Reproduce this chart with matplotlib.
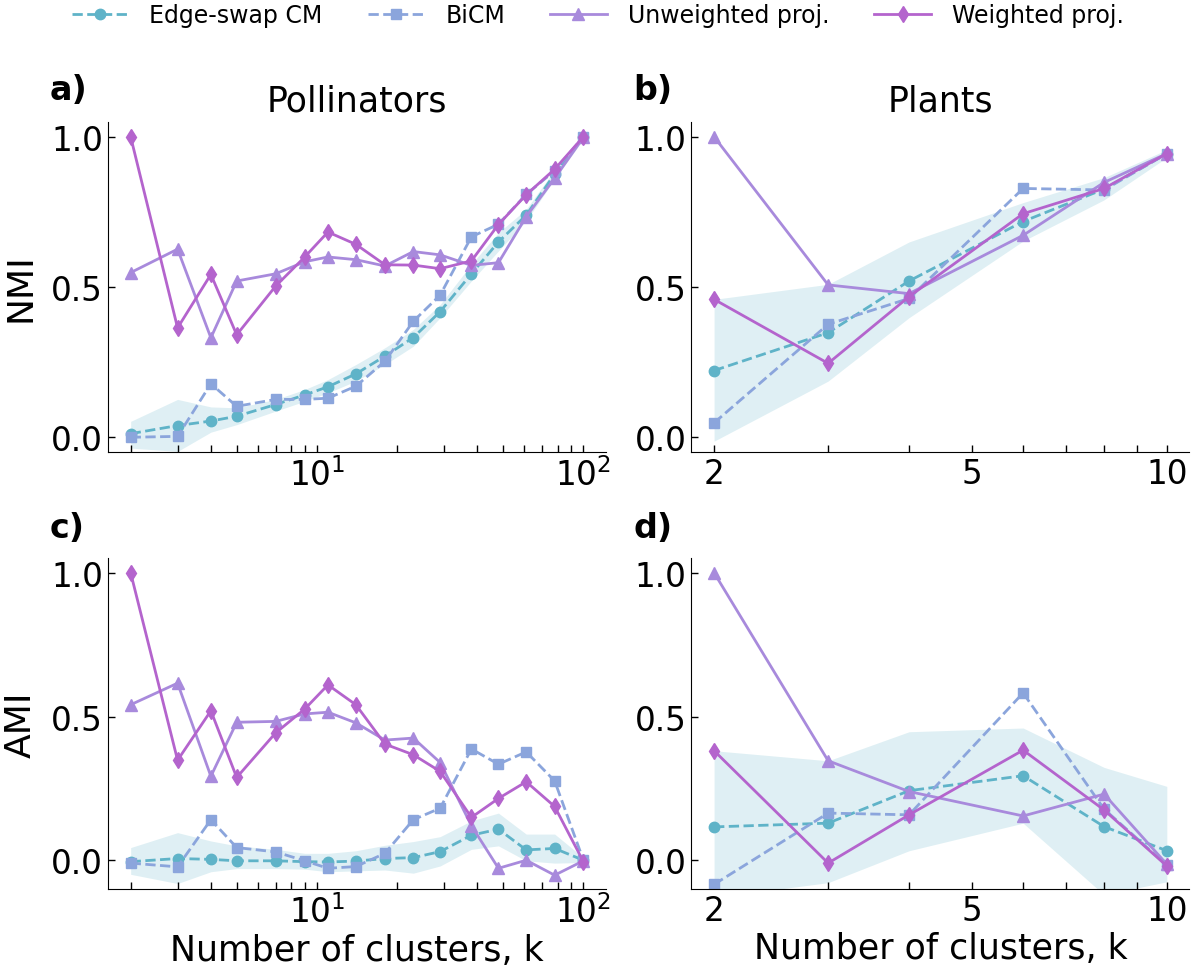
import numpy as np
import matplotlib
matplotlib.use("Agg")
import matplotlib.pyplot as plt
from matplotlib.ticker import NullFormatter, FixedLocator

# number of clusters
k_poll = [2, 3, 4, 5, 7, 9, 11, 14, 18, 23, 29, 38, 48, 61, 78, 100]
k_plant = [2, 3, 4, 6, 8, 10]

# NMI, pollinators
nmi_poll_cm = [0.012, 0.039, 0.054, 0.07, 0.109, 0.141, 0.168, 0.211, 0.27, 0.332, 0.418, 0.544, 0.65, 0.739, 0.876, 1.0]
nmi_poll_cm_lo = [-0.036, -0.047, 0.017, 0.042, 0.087, 0.12, 0.148, 0.187, 0.242, 0.303, 0.398, 0.52, 0.62, 0.72, 0.859, 0.992]
nmi_poll_cm_hi = [0.053, 0.126, 0.101, 0.098, 0.126, 0.159, 0.192, 0.242, 0.298, 0.359, 0.442, 0.576, 0.681, 0.759, 0.89, 1.0]
nmi_poll_bicm = [0.0, 0.003, 0.178, 0.103, 0.126, 0.126, 0.13, 0.17, 0.253, 0.386, 0.473, 0.667, 0.709, 0.808, 0.887, 1.0]
nmi_poll_unw = [0.548, 0.626, 0.331, 0.52, 0.544, 0.584, 0.6, 0.591, 0.57, 0.618, 0.607, 0.572, 0.581, 0.734, 0.862, 0.998]
nmi_poll_w = [1.0, 0.364, 0.542, 0.341, 0.503, 0.6, 0.683, 0.642, 0.574, 0.573, 0.561, 0.587, 0.708, 0.807, 0.892, 1.0]

# NMI, plants
nmi_plant_cm = [0.222, 0.348, 0.52, 0.718, 0.826, 0.944]
nmi_plant_cm_lo = [-0.013, 0.187, 0.398, 0.653, 0.79, 0.931]
nmi_plant_cm_hi = [0.459, 0.509, 0.65, 0.781, 0.864, 0.957]
nmi_plant_bicm = [0.048, 0.376, 0.462, 0.828, 0.823, 0.944]
nmi_plant_unw = [1.0, 0.507, 0.478, 0.672, 0.848, 0.944]
nmi_plant_w = [0.459, 0.246, 0.468, 0.744, 0.828, 0.944]

# AMI, pollinators
ami_poll_cm = [-0.005, 0.006, 0.003, -0.002, -0.002, -0.005, -0.006, -0.003, 0.006, 0.009, 0.03, 0.087, 0.108, 0.036, 0.041, 0.0]
ami_poll_cm_lo = [-0.049, -0.081, -0.04, -0.029, -0.029, -0.031, -0.04, -0.037, -0.034, -0.045, -0.02, 0.038, 0.05, -0.002, -0.01, -0.008]
ami_poll_cm_hi = [0.044, 0.096, 0.067, 0.05, 0.038, 0.024, 0.024, 0.033, 0.052, 0.065, 0.082, 0.137, 0.164, 0.091, 0.091, 0.009]
ami_poll_bicm = [-0.01, -0.023, 0.141, 0.044, 0.029, -0.002, -0.028, -0.022, 0.024, 0.141, 0.181, 0.387, 0.334, 0.377, 0.276, 0.0]
ami_poll_unw = [0.541, 0.616, 0.292, 0.48, 0.483, 0.509, 0.515, 0.478, 0.418, 0.425, 0.34, 0.12, -0.028, 0.0, -0.052, -0.002]
ami_poll_w = [1.0, 0.348, 0.52, 0.288, 0.443, 0.526, 0.61, 0.541, 0.404, 0.367, 0.309, 0.149, 0.215, 0.273, 0.187, -0.005]

# AMI, plants
ami_plant_cm = [0.116, 0.129, 0.242, 0.294, 0.117, 0.033]
ami_plant_cm_lo = [-0.13, -0.078, 0.033, 0.129, -0.12, -0.075]
ami_plant_cm_hi = [0.381, 0.346, 0.447, 0.46, 0.323, 0.257]
ami_plant_bicm = [-0.084, 0.164, 0.158, 0.582, 0.178, -0.017]
ami_plant_unw = [1.0, 0.346, 0.239, 0.154, 0.23, -0.014]
ami_plant_w = [0.381, -0.01, 0.158, 0.383, 0.175, -0.02]

c_cm = "#5fb3c8"
c_bicm = "#8ba5dc"
c_unw = "#a88adc"
c_w = "#b464cd"

fig, axes = plt.subplots(2, 2, figsize=(11.91, 9.78), dpi=100)
plt.subplots_adjust(left=0.0907, right=0.9987, bottom=0.09, top=0.8745, wspace=0.1715, hspace=0.321)

panels = [
    (axes[0, 0], k_poll, nmi_poll_cm, nmi_poll_cm_lo, nmi_poll_cm_hi, nmi_poll_bicm, nmi_poll_unw, nmi_poll_w),
    (axes[0, 1], k_plant, nmi_plant_cm, nmi_plant_cm_lo, nmi_plant_cm_hi, nmi_plant_bicm, nmi_plant_unw, nmi_plant_w),
    (axes[1, 0], k_poll, ami_poll_cm, ami_poll_cm_lo, ami_poll_cm_hi, ami_poll_bicm, ami_poll_unw, ami_poll_w),
    (axes[1, 1], k_plant, ami_plant_cm, ami_plant_cm_lo, ami_plant_cm_hi, ami_plant_bicm, ami_plant_unw, ami_plant_w),
]

for ax, k, cm, lo, hi, bicm, unw, w in panels:
    ax.fill_between(k, lo, hi, color=c_cm, alpha=0.2, linewidth=0)
    ax.plot(k, cm, "--o", color=c_cm, lw=2, ms=7.5, label="Edge-swap CM")
    ax.plot(k, bicm, "--s", color=c_bicm, lw=2, ms=7.5, label="BiCM")
    ax.plot(k, unw, "-^", color=c_unw, lw=2, ms=8, label="Unweighted proj.")
    ax.plot(k, w, "-d", color=c_w, lw=2, ms=8, label="Weighted proj.")
    ax.set_xscale("log")
    ax.spines["top"].set_visible(False)
    ax.spines["right"].set_visible(False)
    ax.set_yticks([0.0, 0.5, 1.0])
    ax.tick_params(which="both", direction="in", length=5, width=1, labelsize=23.5)

for ax in axes[:, 1]:
    ax.xaxis.set_major_locator(FixedLocator([2, 5, 10]))
    ax.set_xticklabels(["2", "5", "10"])
    ax.xaxis.set_minor_locator(FixedLocator([3, 4, 6, 7, 8, 9]))
    ax.xaxis.set_minor_formatter(NullFormatter())

for ax in axes[0]:
    ax.set_ylim(-0.05, 1.05)
for ax in axes[1]:
    ax.set_ylim(-0.1, 1.05)

axes[0, 0].set_title("Pollinators", fontsize=25, pad=8)
axes[0, 1].set_title("Plants", fontsize=25, pad=8)
axes[0, 0].set_ylabel("NMI", fontsize=26, labelpad=10)
axes[1, 0].set_ylabel("AMI", fontsize=26, labelpad=10)
axes[1, 0].set_xlabel("Number of clusters, k", fontsize=25, labelpad=3)
axes[1, 1].set_xlabel("Number of clusters, k", fontsize=25, labelpad=3)

fig.text(0.042, 1 - 100 / 978, "a)", fontsize=24, fontweight="bold")
fig.text(0.532, 1 - 100 / 978, "b)", fontsize=24, fontweight="bold")
fig.text(0.042, 1 - 538 / 978, "c)", fontsize=24, fontweight="bold")
fig.text(0.532, 1 - 538 / 978, "d)", fontsize=24, fontweight="bold")

handles, labels = axes[0, 0].get_legend_handles_labels()
fig.legend(handles, labels, loc="center", bbox_to_anchor=(0.502, 1 - 16 / 978), ncol=4,
           frameon=False, fontsize=17, handlelength=2.4, handletextpad=0.9, columnspacing=1.9)

plt.savefig("out.png", dpi=100)
